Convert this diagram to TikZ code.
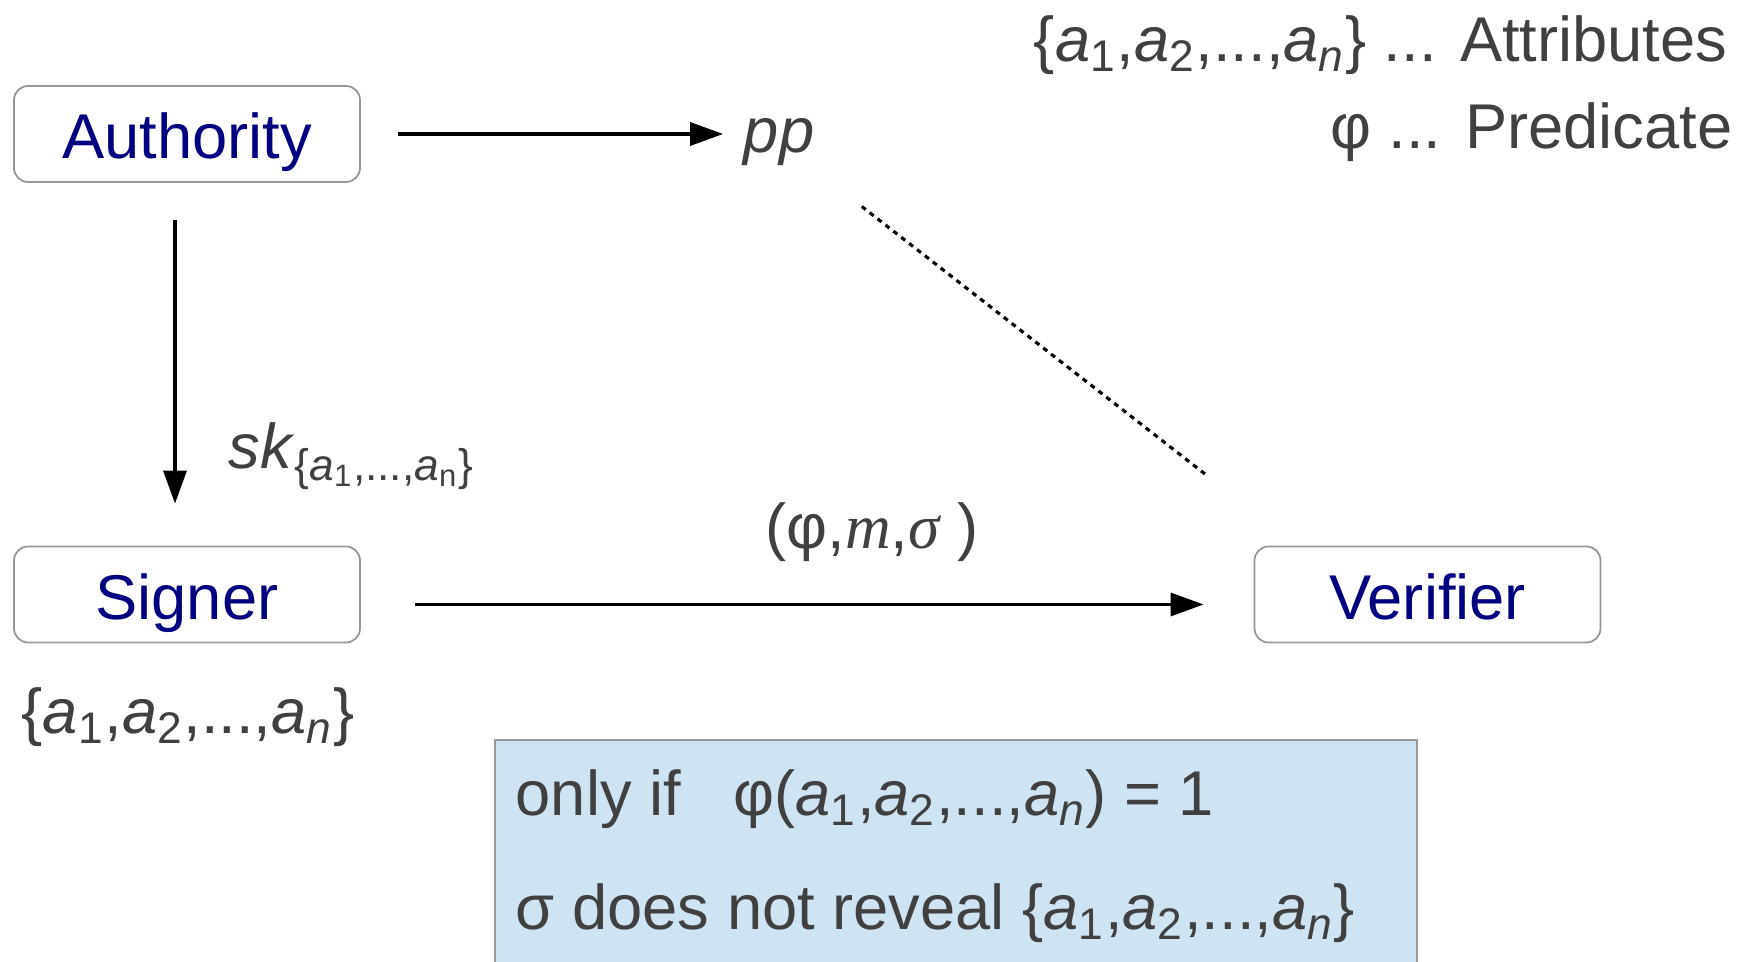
\documentclass[tikz,border=0pt]{standalone}
\usepackage{fontspec}
\setmainfont{Liberation Sans}
\newfontfamily\timesfont{Liberation Serif}
\definecolor{txtgray}{RGB}{64,64,64}
\definecolor{rolenavy}{RGB}{0,0,128}
\definecolor{boxgray}{RGB}{150,150,150}
\definecolor{condblue}{RGB}{207,228,243}
\usetikzlibrary{arrows.meta,positioning}

\newcommand{\attrset}{\{\textit{a}\textsubscript{1},\textit{a}\textsubscript{2},...,\textit{a}\textsubscript{\textit{n}}\}}

\begin{document}
\begin{tikzpicture}[
  bigfont/.style={font=\fontsize{18}{22}\selectfont},
  role/.style={draw=boxgray, line width=0.5pt, rounded corners=0.14cm, fill=white, bigfont, text=rolenavy,
    minimum width=3.46cm, minimum height=0.96cm, text height=0.6cm, text depth=0.1cm, inner sep=0pt},
  lbl/.style={bigfont, text=txtgray, inner sep=0pt},
  flow/.style={-{Triangle[length=0.33cm,width=0.23cm]}, line width=0.95pt, black},
  dotline/.style={line width=0.9pt, dash pattern=on 0.05cm off 0.05cm, black},
  infobox/.style={draw=boxgray, line width=0.5pt, fill=condblue, minimum width=9.22cm, minimum height=2.6cm, inner sep=0pt}
]
  \useasboundingbox (0,0) rectangle (17.58,9.62);

  % Parties
  \node[role] (auth) at (1.87,8.28) {Authority};
  \node[role] (signer) at (1.87,3.675) {Signer};
  \node[role] (verif) at (14.275,3.675) {Verifier};

  % Public parameters
  \node[lbl, font=\fontsize{18}{22}\selectfont\itshape] (pp) at (7.79,8.20) {pp};
  \draw[flow, shorten <=0.37cm, shorten >=0.2cm] (auth.east) -- (auth.east -| pp.west);

  % Key issuing
  \draw[flow, shorten <=0.37cm, shorten >=0.42cm] ([xshift=-0.12cm]auth.south) -- ([xshift=-0.12cm]signer.north);
  \node[lbl, anchor=base west] (sk) at (2.28,4.93) {\textit{sk}\textsubscript{\{\textit{a}\textsubscript{1},...,\textit{a}\textsubscript{n}\}}};

  % Signature
  \draw[flow, shorten <=0.54cm, shorten >=0.5cm] ([yshift=-0.1cm]signer.east) -- ([yshift=-0.1cm]verif.west);
  \node[lbl, anchor=base] (msg) at (8.72,4.13) {(φ,{\timesfont\itshape m},{\timesfont\itshape σ} )};

  % pp goes to the verifier
  \coordinate (vin) at (12.05,4.88);
  \draw[dotline, shorten <=1.05cm] (pp.center) -- (vin);

  % Signer attributes
  \node[lbl, anchor=base] (sattr) at (1.88,2.28) {\attrset};

  % Legend
  \node[lbl, anchor=base east] (legattr) at (17.28,9.00) {\attrset{} ... Attributes};
  \node[lbl, anchor=base east] (legpred) at (17.33,8.13) {φ ... Predicate};

  % Condition box
  \node[infobox, anchor=north west] (cond) at (4.94,2.23) {};
  \node[lbl, anchor=base west] (cond1) at (5.15,1.46) {only if\hspace{0.35cm} φ(\textit{a}\textsubscript{1},\textit{a}\textsubscript{2},...,\textit{a}\textsubscript{\textit{n}}) = 1};
  \node[lbl, anchor=base west] (cond2) at (5.15,0.32) {σ does not reveal \attrset};
\end{tikzpicture}
\end{document}
